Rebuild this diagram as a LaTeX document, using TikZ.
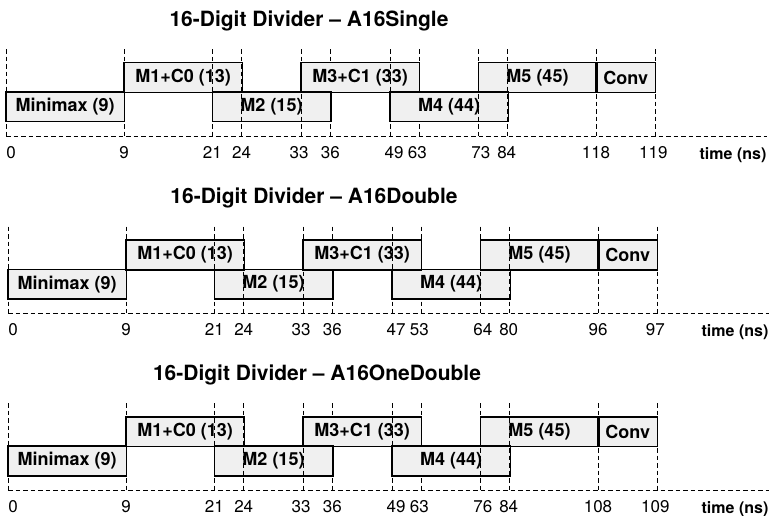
\documentclass[tikz,border=0pt]{standalone}
\usepackage{fontspec}
\setmainfont{TeX Gyre Heros}
\usepackage{tikz}

\tikzset{
  stage/.style={fill=gray!12,inner sep=0pt,anchor=north west,
    minimum width=118pt,minimum height=29.3pt,font=\fontsize{18}{18}\selectfont\bfseries},
  edge/.style={line width=1.6pt},
  tick/.style={line width=0.7pt,dash pattern=on 4.5pt off 3pt},
  num/.style={anchor=base,font=\fontsize{17}{17}\selectfont},
  hd/.style={anchor=base,font=\fontsize{21}{21}\selectfont\bfseries},
  tm/.style={anchor=base,font=\fontsize{16}{16}\selectfont\bfseries}
}

% #1 prefix, #2 top of boxes, #3 x shift, #4 title, #5 title x, #6 tick labels
\newcommand{\divpanel}[6]{%
\begin{scope}[shift={(#3,#2)}]
  \node[hd] (#1-title) at (#5,-36) {16-Digit Divider -- #4};
  \foreach \x [count=\i] in {6,124,212.3,241.7,301,330.3,390,419.3,478.3,507.7,596,655}
    \coordinate (#1-t\i) at (\x,0);
  % grid lines hidden by the boxes
  \draw[tick] (#1-t6) ++(0,-13.5) -- ++(0,86.8);
  \draw[tick,line width=1.3pt] (#1-t8) ++(0,-13.5) -- ++(0,86.8);
  % stages
  \node[stage] (#1-mm) at (6,29.3) {Minimax (9)};
  \node[stage] (#1-m1) at (124,0) {M1+C0 (13)};
  \node[stage] (#1-m2) at (212.3,29.3) {M2 (15)};
  \node[stage] (#1-m3) at (301,0) {M3+C1 (33)};
  \node[stage] (#1-m4) at (390,29.3) {M4 (44)};
  \node[stage] (#1-m5) at (478.3,0) {M5 (45)};
  \node[stage,minimum width=59pt] (#1-cv) at (596,0) {Conv};
  \foreach \b in {mm,m1,m2,m3,m4,m5,cv}
    \draw[edge] (#1-\b.north west) rectangle (#1-\b.south east);
  % grid lines over the boxes
  \foreach \i in {1,2,3,4,5,7,9,10,11,12}
    \draw[tick] (#1-t\i) ++(0,-13.5) -- ++(0,86.8);
  \draw[tick] (6,73.3) -- (767,73.3);
  \foreach \n [count=\i] in {#6} {
    \pgfmathsetmacro{\o}{{5,0,0,0,-2,0,4,-2,2.5,-1,0,-1.7}[\i-1]}
    \node[num,xshift=\o pt,yshift=-95.6pt] (#1-n\i) at (#1-t\i) {\n};
  }
  \node[tm] (#1-time) at (733,96.5) {time (ns)};
\end{scope}}

\begin{document}
\begin{tikzpicture}[x=1pt,y=-1pt]
\useasboundingbox (0,0) rectangle (769,516);
\divpanel{sg}{62.7}{0}{A16Single}{309}{0,9,21,24,33,36,49,63,73,84,118,119}
\divpanel{db}{240}{2}{A16Double}{312}{0,9,21,24,33,36,47,53,64,80,96,97}
\divpanel{od}{416.7}{2}{A16OneDouble}{315}{0,9,21,24,33,36,49,63,76,84,108,109}
\end{tikzpicture}
\end{document}
